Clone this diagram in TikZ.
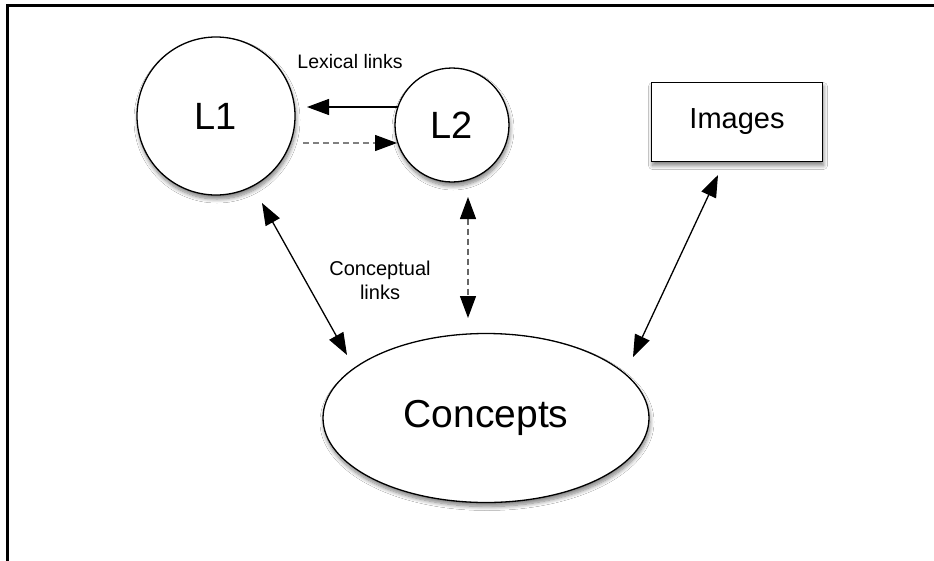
\documentclass[tikz,border=0pt]{standalone}
\usepackage{fontspec}
\setmainfont{Liberation Sans}
\usetikzlibrary{arrows.meta,shapes.geometric,shadows.blur}
\begin{document}
\begin{tikzpicture}[x=1pt,y=-1pt,
  shad/.style={blur shadow={shadow xshift=1pt,shadow yshift=-4pt,shadow blur radius=4pt,shadow blur steps=8,shadow opacity=50}},
  circ/.style={circle,draw=black,line width=1.3pt,fill=white,inner sep=0pt,shad},
  boxnode/.style={rectangle,draw=black,line width=1.3pt,fill=white,inner sep=0pt,shad},
  ell/.style={ellipse,draw=black,line width=1.3pt,fill=white,inner sep=0pt,shad},
  lbl/.style={inner sep=0pt,align=center},
  tipa/.tip={Triangle[length=22pt,width=16pt,color=black]},
  link/.style={line width=1.3pt,-tipa},
  blink/.style={line width=1.3pt,tipa-tipa},
  dsh/.style={dash pattern=on 6pt off 4pt}
]
\useasboundingbox (0,0) rectangle (934,560);
\fill[white] (0,0) rectangle (934,560);
% frame (top and left visible)
\draw[line width=3pt] (7.5,562) -- (7.5,5.5) -- (936,5.5);

\node[circ,minimum size=158pt,font=\fontsize{38}{40}\selectfont] (L1) at (216,116) {L1};
\node[circ,minimum size=114pt,font=\fontsize{38}{40}\selectfont] (L2) at (452,125) {L2};
\node[boxnode,minimum width=171pt,minimum height=79pt,font=\fontsize{29}{32}\selectfont] (IM) at (737,122) {Images};
\node[ell,minimum width=326pt,minimum height=169pt,font=\fontsize{39}{42}\selectfont] (CO) at (486,418) {Concepts};

\node[lbl,font=\fontsize{19.5}{22}\selectfont] (lex) at (350,62) {Lexical links};
\node[lbl,font=\fontsize{20}{24}\selectfont] (con) at (380,280) {Conceptual\\links};

\coordinate (s1) at (398,107);
\coordinate (e1) at (307,107);
\coordinate (s2) at (303,143);
\coordinate (e2) at (397,143);
\coordinate (a3) at (262,203);
\coordinate (b3) at (347,355);
\coordinate (a4) at (468,197);
\coordinate (b4) at (468,318);
\coordinate (a5) at (718,175);
\coordinate (b5) at (633,357);

\draw[link] (s1) -- (e1);
\draw[link,dsh,draw=black!50] (s2) -- (e2);
\draw[blink] (a3) -- (b3);
\draw[blink,dsh,draw=black!60] (a4) -- (b4);
\draw[blink] (a5) -- (b5);
\end{tikzpicture}
\end{document}
